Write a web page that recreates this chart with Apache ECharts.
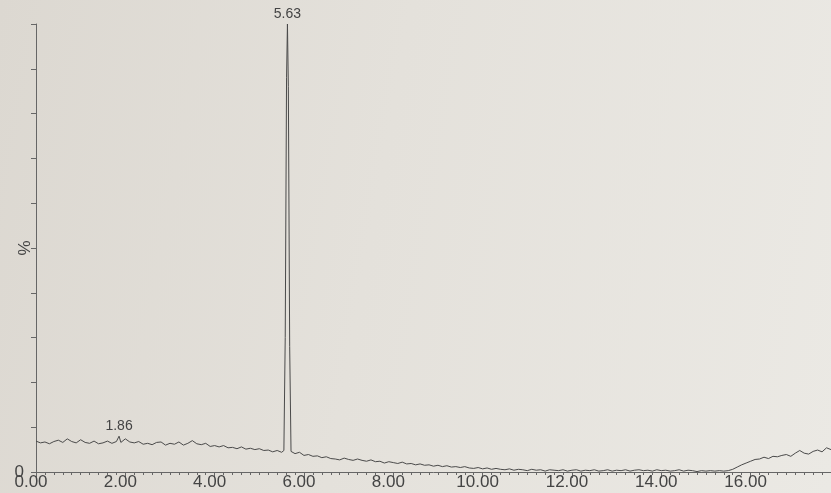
<!DOCTYPE html>
<html>
<head>
<meta charset="utf-8">
<script src="https://cdn.jsdelivr.net/npm/echarts@6/dist/echarts.min.js"></script>
<style>
  html, body { margin: 0; padding: 0; }
  body { background: linear-gradient(100deg, #dcd8d1 0%, #e4e1db 45%, #ebe9e4 100%); }
  #chart { width: 831px; height: 493px; }
</style>
</head>
<body>
<div id="chart"></div>
<script>
// retention time (min)
const rt = [
  0.0, 0.1, 0.2, 0.3, 0.4, 0.5, 0.6, 0.7, 0.8, 0.9,
  1.0, 1.1, 1.2, 1.3, 1.4, 1.5, 1.6, 1.7, 1.8, 1.86, 1.9,
  2.0, 2.1, 2.2, 2.3, 2.4, 2.5, 2.6, 2.7, 2.8, 2.9,
  3.0, 3.1, 3.2, 3.3, 3.4, 3.5, 3.6, 3.7, 3.8, 3.9,
  4.0, 4.1, 4.2, 4.3, 4.4, 4.5, 4.6, 4.7, 4.8, 4.9,
  5.0, 5.1, 5.2, 5.3, 5.4, 5.5, 5.55, 5.58, 5.61, 5.63, 5.65, 5.68, 5.71, 5.8, 5.9,
  6.0, 6.1, 6.2, 6.3, 6.4, 6.5, 6.6, 6.7, 6.8, 6.9,
  7.0, 7.1, 7.2, 7.3, 7.4, 7.5, 7.6, 7.7, 7.8, 7.9,
  8.0, 8.1, 8.2, 8.3, 8.4, 8.5, 8.6, 8.7, 8.8, 8.9,
  9.0, 9.1, 9.2, 9.3, 9.4, 9.5, 9.6, 9.7, 9.8, 9.9,
  10.0, 10.1, 10.2, 10.3, 10.4, 10.5, 10.6, 10.7, 10.8, 10.9,
  11.0, 11.1, 11.2, 11.3, 11.4, 11.5, 11.6, 11.7, 11.8, 11.9,
  12.0, 12.1, 12.2, 12.3, 12.4, 12.5, 12.6, 12.7, 12.8, 12.9,
  13.0, 13.1, 13.2, 13.3, 13.4, 13.5, 13.6, 13.7, 13.8, 13.9,
  14.0, 14.1, 14.2, 14.3, 14.4, 14.5, 14.6, 14.7, 14.8, 14.9,
  15.0, 15.1, 15.2, 15.3, 15.4, 15.5, 15.6, 15.7, 15.8, 15.9,
  16.0, 16.1, 16.2, 16.3, 16.4, 16.5, 16.6, 16.7, 16.8, 16.9,
  17.0, 17.1, 17.2, 17.3, 17.4, 17.5, 17.6, 17.7, 17.8
];

// relative intensity (%)
const intensity = [
  6.9, 6.5, 6.7, 6.3, 6.8, 7.1, 6.6, 7.4, 6.8, 6.5,
  7.2, 6.6, 6.4, 6.9, 6.3, 6.5, 6.9, 6.4, 6.8, 8.0, 6.6,
  7.4, 6.7, 6.5, 6.8, 6.2, 6.4, 6.1, 6.6, 6.7, 6.0,
  6.4, 6.2, 6.7, 6.0, 6.4, 7.0, 6.3, 6.1, 6.4, 5.7,
  5.9, 5.6, 5.9, 5.4, 5.5, 5.2, 5.6, 5.1, 5.3, 5.0,
  5.2, 4.8, 4.9, 4.5, 4.8, 4.4, 4.8, 30, 88, 100, 86, 28, 4.6, 4.1, 4.4,
  3.7, 3.9, 3.5, 3.6, 3.2, 3.4, 3.0, 2.9, 2.7, 3.1,
  2.8, 2.6, 2.9, 2.6, 2.4, 2.7, 2.3, 2.4, 2.0, 2.3,
  2.1, 1.9, 2.2, 1.8, 1.9, 1.6, 1.8, 1.5, 1.6, 1.3,
  1.5, 1.2, 1.4, 1.1, 1.2, 1.0, 1.2, 0.9, 0.8, 1.0,
  0.7, 0.9, 0.6, 0.8, 0.6, 0.5, 0.7, 0.4, 0.6, 0.5,
  0.3, 0.6, 0.4, 0.5, 0.2, 0.5, 0.4, 0.3, 0.5, 0.2,
  0.4, 0.5, 0.2, 0.4, 0.3, 0.5, 0.2, 0.3, 0.5, 0.2,
  0.4, 0.3, 0.5, 0.2, 0.4, 0.5, 0.3, 0.4, 0.2, 0.5,
  0.3, 0.4, 0.2, 0.3, 0.5, 0.2, 0.4, 0.3, 0.1, 0.3,
  0.2, 0.3, 0.2, 0.3, 0.2, 0.3, 0.6, 1.1, 1.6, 2.0,
  2.4, 2.8, 2.9, 3.3, 3.0, 3.5, 3.4, 3.7, 3.9, 3.5,
  4.2, 4.8, 4.2, 4.0, 4.6, 4.9, 4.5, 5.4, 5.0
];

// labelled peaks
const peakRt = [1.86, 5.63];
const peakHeight = [8.0, 100];

const chart = echarts.init(document.getElementById('chart'));

const textColor = '#444';
const axisColor = '#666';

chart.setOption({
  backgroundColor: 'transparent',
  animation: false,
  grid: { left: 36, right: 0, top: 24, bottom: 21, containLabel: false, outerBoundsMode: 'none' },
  xAxis: {
    type: 'value',
    min: 0,
    max: 17.8,
    interval: 2,
    axisLine: { show: true, lineStyle: { color: axisColor, width: 1 } },
    axisTick: { show: true, length: 6, lineStyle: { color: axisColor } },
    minorTick: { show: true, splitNumber: 10, length: 3, lineStyle: { color: axisColor } },
    splitLine: { show: false },
    axisLabel: {
      color: textColor,
      fontFamily: 'Liberation Sans',
      fontSize: 17,
      margin: 2,
      padding: [0, 10, 0, 0],
      showMaxLabel: false,
      formatter: v => v.toFixed(2)
    }
  },
  yAxis: {
    type: 'value',
    min: 0,
    max: 100,
    interval: 10,
    name: '%',
    nameLocation: 'middle',
    nameGap: 2,
    nameRotate: 90,
    nameMoveOverlap: false,
    nameTextStyle: { color: textColor, fontFamily: 'Liberation Sans', fontSize: 17 },
    axisLine: { show: true, lineStyle: { color: axisColor, width: 1 } },
    axisTick: { show: true, length: 5, lineStyle: { color: axisColor } },
    splitLine: { show: false },
    axisLabel: {
      color: textColor,
      fontFamily: 'Liberation Sans',
      fontSize: 17,
      margin: 12,
      formatter: v => (v === 0 ? '0' : '')
    }
  },
  series: [{
    type: 'line',
    data: rt.map((t, i) => [t, intensity[i]]),
    showSymbol: false,
    symbol: 'none',
    lineStyle: { color: '#4a4a4a', width: 1 },
    markPoint: {
      symbol: 'circle',
      symbolSize: 0,
      label: {
        show: true,
        position: 'top',
        distance: 3,
        color: textColor,
        fontFamily: 'Liberation Sans',
        fontSize: 14,
        formatter: p => p.name
      },
      data: peakRt.map((t, i) => ({ name: t.toFixed(2), coord: [t, peakHeight[i]] }))
    }
  }]
});
</script>
</body>
</html>
